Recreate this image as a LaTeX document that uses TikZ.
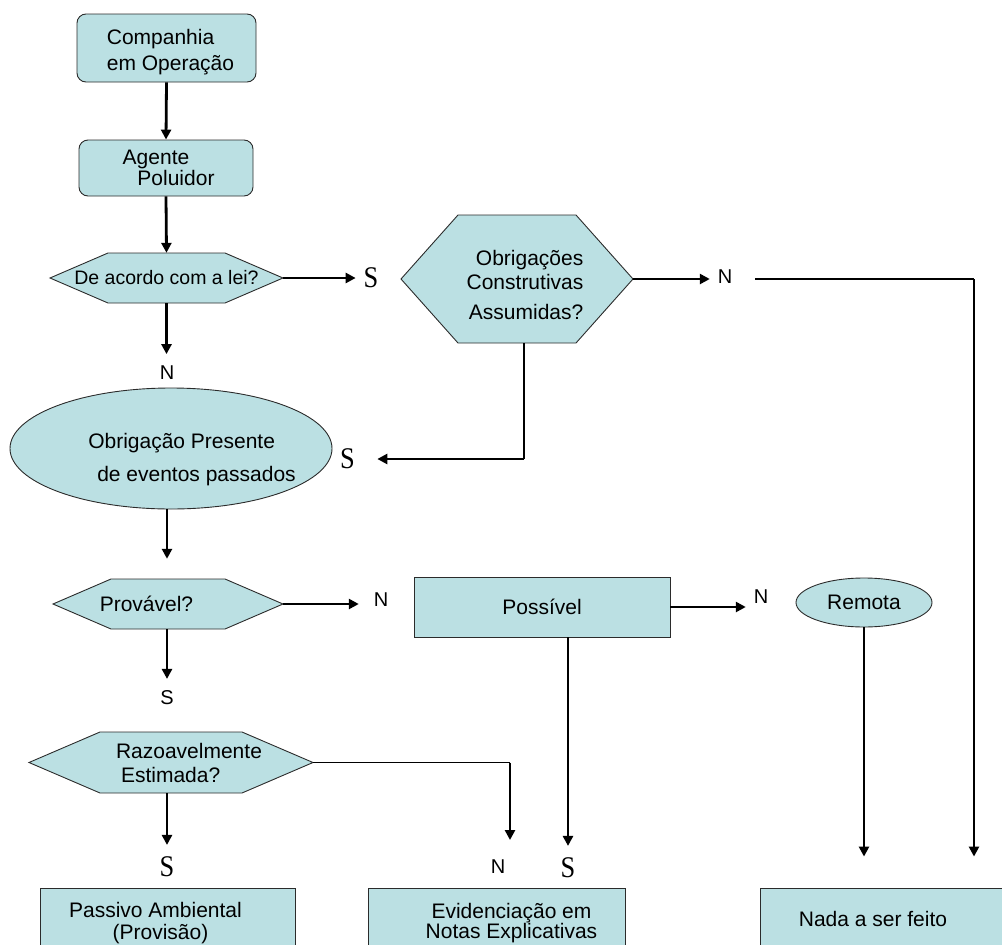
\documentclass[tikz,border=0pt]{standalone}
\usepackage{fontspec}
\setmainfont{Liberation Sans}
\newfontfamily\serifS{Liberation Serif}
\usepackage{graphicx}
\usepackage{xcolor}
\usepackage{tikz}
\usetikzlibrary{arrows.meta,shapes.geometric}
\definecolor{boxfill}{HTML}{BBE0E3}
\definecolor{boxline}{HTML}{2B2B2B}

% serif answer letter, slightly narrow
\newcommand{\sletter}{\scalebox{0.88}[1]{S}}

% hexagon: [options]{name}{x}{y}{width}{height}{tip}{text}
\newcommand{\hexnode}[8][]{%
  \draw[hexline] ({#3-#5/2},#4) -- ({#3-#5/2+#7},{#4-#6/2}) -- ({#3+#5/2-#7},{#4-#6/2})
    -- ({#3+#5/2},#4) -- ({#3+#5/2-#7},{#4+#6/2}) -- ({#3-#5/2+#7},{#4+#6/2}) -- cycle;
  \node[hexbody, minimum width=#5pt, minimum height=#6pt, #1] (#2) at (#3,#4) {#8};}

\begin{document}
\begin{tikzpicture}[x=1pt, y=-1pt,
  every node/.style={font=\fontsize{21}{24}\selectfont},
  box/.style={draw=boxline, fill=boxfill, line width=0.9pt, inner sep=0pt},
  roundbox/.style={box, rounded corners=9pt},
  oval/.style={box, ellipse},
  hexline/.style={draw=boxline, fill=boxfill, line width=0.9pt},
  hexbody/.style={inner sep=0pt},
  lbl/.style={inner sep=0pt, outer xsep=8pt, outer ysep=12pt, font=\fontsize{20}{22}\selectfont},
  slbl/.style={lbl, font=\fontsize{30}{32}\selectfont\serifS},
  arrow/.style={-{Triangle[length=10pt,width=10pt]}, line width=2.8pt},
  thinline/.style={line width=1.3pt}
]

\path[use as bounding box, clip] (0,0) rectangle (1002,945);

% Left column
\node[roundbox, minimum width=179pt, minimum height=68pt] (cia) at (166.5,48)
  {\hspace*{4pt}\raisebox{-10pt}[0pt][0pt]{\begin{tabular}{@{}l@{}}Companhia\\[2pt]em Operação\end{tabular}}\hspace*{-4pt}};
\node[roundbox, align=center, minimum width=174pt, minimum height=56pt] (agente) at (166,168) {Agente\hspace*{20pt}\\[-3pt]\hspace*{20pt}Poluidor};
\hexnode[font=\fontsize{19.5}{22}\selectfont]{lei}{166.5}{278}{233}{50}{58}{De acordo com a lei?}
\node[oval, minimum width=322pt, minimum height=121pt] (presente) at (171,448.5)
  {\hspace*{21pt}\raisebox{-17pt}[0pt][0pt]{\begin{tabular}{@{}l@{}}Obrigação Presente\\[9pt]\hspace*{9pt}de eventos passados\end{tabular}}\hspace*{-21pt}};
\hexnode{prov}{168}{604}{230}{50}{58}{Provável?\hspace*{43pt}}
\hexnode[align=left]{razo}{171}{762.5}{284}{61}{71}{\hspace*{36pt}Razoavelmente\\\hspace*{41pt}Estimada?}

% Right part
\hexnode{obrig}{517}{279}{232}{128}{57}
  {\hspace*{8pt}\raisebox{-13.5pt}[0pt][0pt]{\begin{tabular}{@{}r@{}}Obrigações\\Construtivas\\[6pt]Assumidas?\end{tabular}}\hspace*{-8pt}}
\node[box, minimum width=256pt, minimum height=60pt] (possivel) at (542,607) {Possível};
\node[oval, minimum width=136pt, minimum height=49pt] (remota) at (864,602.5) {Remota};

% Results
\node[box, align=center, minimum width=255pt, minimum height=70pt] (passivo) at (167.5,923) {Passivo Ambiental\hspace*{24pt}\\[-2pt](Provisão)\hspace*{14pt}};
\node[box, align=center, minimum width=257pt, minimum height=70pt] (evid) at (496.5,923) {\hspace*{30pt}Evidenciação em\\[-4pt]\hspace*{30pt}Notas Explicativas};
\node[box, minimum width=260pt, minimum height=62pt] (nada) at (890,919) {Nada a ser feito\hspace*{34pt}};

% Answers
\node[slbl] (sLei) at (371,278) {\sletter};
\node[lbl] (nObrig) at (725,277) {N};
\node[lbl] (nLei) at (167,373) {N};
\node[slbl] (sObrig) at (347.5,459) {\sletter};
\node[lbl] (nProv) at (381,600) {N};
\node[lbl] (sProv) at (167,698) {S};
\node[lbl] (nPoss) at (761,597) {N};
\node[slbl] (sRazo) at (167,867) {\sletter};
\node[lbl] (nRazo) at (498,867) {N};
\node[slbl] (sPoss) at (568,868) {\sletter};

\coordinate (obrigTurn) at (524,459);
\coordinate (topStart) at (755,279);
\coordinate (topTurn) at (974,279);
\coordinate (razoTurn) at (510,762.5);
\coordinate (razoEnd) at (510,840);

% Arrows
\draw[arrow] (cia.south) -- (agente.north);
\draw[arrow] (agente.south) -- (lei.north);
\draw[arrow] (lei.east) -- (lei.east -| sLei.west);
\draw[arrow] (lei.south) -- (lei.south |- nLei.north);
\draw[arrow] (obrig.east) -- (obrig.east -| nObrig.west);
\draw[thinline] (obrig.south -| obrigTurn) -- (obrigTurn);
\draw[arrow, shorten >=14.5pt] (obrigTurn) -- (sObrig.east);
\draw[thinline] (topStart) -- (topTurn);
\draw[arrow, shorten >=31pt] (topTurn) -- (topTurn |- nada.north);
\draw[arrow, shorten >=20pt] (presente.south -| sProv) -- (sProv |- prov.north);
\draw[arrow, shorten >=7pt] (prov.east) -- (prov.east -| nProv.west);
\draw[arrow] (prov.south -| sProv) -- (sProv.north);
\draw[arrow] (possivel.east) -- (possivel.east -| nPoss.west);
\draw[arrow] (possivel.south -| sPoss) -- (sPoss.north);
\draw[arrow, shorten >=31pt] (remota.south) -- (remota.south |- nada.north);
\draw[arrow] (razo.south -| sRazo) -- (sRazo.north);
\draw[thinline] (razo.east) -- (razoTurn);
\draw[arrow] (razoTurn) -- (razoEnd);

\end{tikzpicture}
\end{document}
